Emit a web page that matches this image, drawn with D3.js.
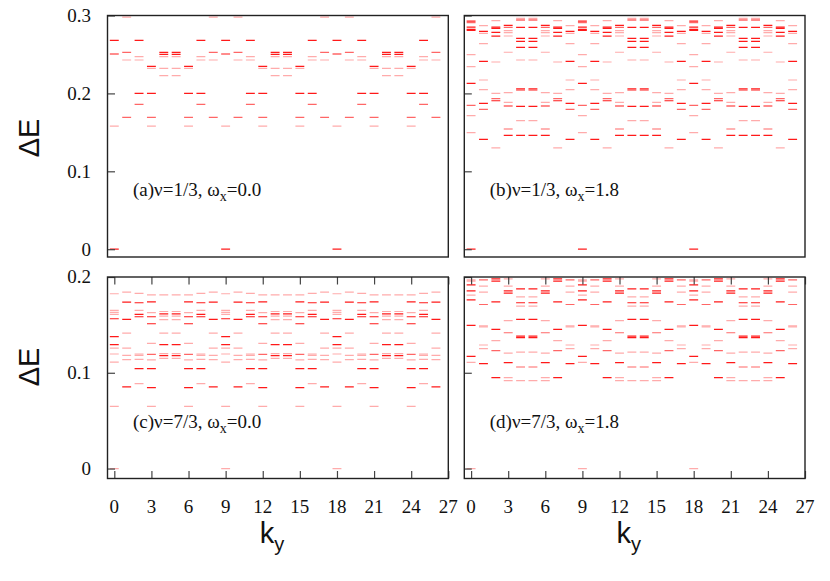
<!DOCTYPE html>
<html><head><meta charset="utf-8">
<script src="https://cdn.jsdelivr.net/npm/d3@7"></script>
<style>body{margin:0;background:#fff}</style>
</head><body>
<svg id="c" width="830" height="581"></svg>
<script>
// ---- data ----
// levels per ky = 0..8 as [ΔE, weight]; the spectrum repeats with period 9 in ky (0..26)
const kTicks = [0, 3, 6, 9, 12, 15, 18, 21, 24, 27];
const yTicksTop = [0, 0.1, 0.2, 0.3];
const yTicksBottom = [0, 0.1, 0.2];
const nK = 27;
const period = 9;

const levelsA = [
  [[0,3],[0.268,3],[0.2506,3],[0.158,1]],
  [[0.298,1],[0.2527,2],[0.2429,1],[0.1693,2]],
  [[0.268,3],[0.2472,1],[0.2429,1],[0.200,3],[0.186,2]],
  [[0.2348,3],[0.2322,1],[0.200,3],[0.1693,2],[0.158,1]],
  [[0.2527,3],[0.2502,3],[0.2472,1],[0.2322,1],[0.2227,1]],
  [[0.2527,3],[0.2502,3],[0.2472,1],[0.2322,1],[0.2227,1]],
  [[0.2348,3],[0.2322,1],[0.200,3],[0.1693,2],[0.158,1]],
  [[0.268,3],[0.2472,1],[0.2429,1],[0.200,3],[0.186,2]],
  [[0.298,1],[0.2527,2],[0.2429,1],[0.1693,2]]
];
const levelsB = [
  [[0,3],[0.2929,3],[0.2908,2],[0.2852,3],[0.2823,3],[0.2810,3],[0.2497,1],[0.2343,1],[0.2129,3],[0.1847,2],[0.1714,1],[0.1496,1]],
  [[0.2869,1],[0.2797,3],[0.2771,1],[0.2638,1],[0.2412,3],[0.2172,1],[0.2048,1],[0.1873,3],[0.1796,2],[0.1411,3]],
  [[0.2933,1],[0.2852,3],[0.2835,3],[0.2784,3],[0.2735,3],[0.2403,1],[0.2001,1],[0.1932,2],[0.1906,3],[0.1300,1]],
  [[0.2874,3],[0.2848,2],[0.2805,1],[0.2779,1],[0.2737,1],[0.2528,1],[0.2009,1],[0.1886,1],[0.1838,3],[0.1543,2],[0.1462,3]],
  [[0.2964,1],[0.2942,3],[0.2848,3],[0.2707,3],[0.2669,3],[0.2592,3],[0.2429,1],[0.2060,3],[0.2044,3],[0.1834,3],[0.1650,1],[0.1462,3]],
  [[0.2964,1],[0.2942,3],[0.2848,3],[0.2707,3],[0.2669,3],[0.2592,3],[0.2429,1],[0.2060,3],[0.2044,3],[0.1834,3],[0.1650,1],[0.1462,3]],
  [[0.2874,3],[0.2848,2],[0.2805,1],[0.2779,1],[0.2737,1],[0.2528,1],[0.2009,1],[0.1886,1],[0.1838,3],[0.1543,2],[0.1462,3]],
  [[0.2933,1],[0.2852,3],[0.2835,3],[0.2784,3],[0.2735,3],[0.2403,1],[0.2001,1],[0.1932,2],[0.1906,3],[0.1300,1]],
  [[0.2869,1],[0.2797,3],[0.2771,1],[0.2638,1],[0.2412,3],[0.2172,1],[0.2048,1],[0.1873,3],[0.1796,2],[0.1411,3]]
];
const levelsC = [
  [[0,1],[0.1825,1],[0.1651,1],[0.1630,1],[0.1609,1],[0.1564,3],[0.1377,3],[0.1293,3],[0.1258,1],[0.1196,1],[0.1112,1],[0.0650,1]],
  [[0.1842,1],[0.1738,3],[0.1557,3],[0.1415,1],[0.1258,1],[0.1182,1],[0.1137,1],[0.0852,3]],
  [[0.1828,1],[0.1731,3],[0.1651,1],[0.1609,3],[0.1585,3],[0.1196,1],[0.1182,1],[0.1140,1],[0.1043,3],[0.0887,1]],
  [[0.1814,1],[0.1741,3],[0.1627,1],[0.1585,3],[0.1512,3],[0.1307,1],[0.1192,2],[0.1134,1],[0.1043,3],[0.0845,3],[0.0650,1]],
  [[0.1814,1],[0.1640,1],[0.1616,3],[0.1592,1],[0.1554,1],[0.1415,1],[0.1293,3],[0.1200,1],[0.1179,3],[0.1151,1]],
  [[0.1814,1],[0.1640,1],[0.1616,3],[0.1592,1],[0.1554,1],[0.1415,1],[0.1293,3],[0.1200,1],[0.1179,3],[0.1151,1]],
  [[0.1814,1],[0.1741,3],[0.1627,1],[0.1585,3],[0.1512,3],[0.1307,1],[0.1192,2],[0.1134,1],[0.1043,3],[0.0845,3],[0.0650,1]],
  [[0.1828,1],[0.1731,3],[0.1651,1],[0.1609,3],[0.1585,3],[0.1196,1],[0.1182,1],[0.1140,1],[0.1043,3],[0.0887,1]],
  [[0.1842,1],[0.1738,3],[0.1557,3],[0.1415,1],[0.1258,1],[0.1182,1],[0.1137,1],[0.0852,3]]
];
const levelsD = [
  [[0,1],[0.1971,1],[0.1957,1],[0.1918,3],[0.1856,3],[0.1811,1],[0.1762,3],[0.1495,3],[0.1172,3],[0.1109,1]],
  [[0.1971,2],[0.1904,1],[0.1842,1],[0.1713,2],[0.1490,1],[0.1478,1],[0.1290,1],[0.1252,1],[0.1095,3]],
  [[0.1981,3],[0.1957,3],[0.1741,3],[0.1453,3],[0.1335,1],[0.1231,2],[0.0949,3]],
  [[0.1981,1],[0.1904,1],[0.1856,3],[0.1832,3],[0.1544,1],[0.1418,2],[0.1206,1],[0.1106,3],[0.0949,1],[0.0918,1]],
  [[0.1877,3],[0.1793,1],[0.1731,3],[0.1696,1],[0.1557,3],[0.1383,3],[0.1366,3],[0.1216,1],[0.1060,2],[0.0918,1]],
  [[0.1877,3],[0.1793,1],[0.1731,3],[0.1696,1],[0.1557,3],[0.1383,3],[0.1366,3],[0.1216,1],[0.1060,2],[0.0918,1]],
  [[0.1981,1],[0.1904,1],[0.1856,3],[0.1832,3],[0.1544,1],[0.1418,2],[0.1206,1],[0.1106,3],[0.0949,1],[0.0918,1]],
  [[0.1981,3],[0.1957,3],[0.1741,3],[0.1453,3],[0.1335,1],[0.1231,2],[0.0949,3]],
  [[0.1971,2],[0.1904,1],[0.1842,1],[0.1713,2],[0.1490,1],[0.1478,1],[0.1290,1],[0.1252,1],[0.1095,3]]
];
const panelTags = ["(a)", "(b)", "(c)", "(d)"];
const panelNu = ["1/3", "1/3", "7/3", "7/3"];
const panelOmega = ["0.0", "1.8", "0.0", "1.8"];

// ---- layout ----
const svg = d3.select("#c");
const serif = "'Liberation Serif','Times New Roman',serif";
const sans = "'Liberation Sans',Arial,sans-serif";
const colX = [[107.5, 448.3], [464.3, 805]];
const rowY = [[15.5, 257], [277, 478.5]];
const rowDomain = [[-0.01, 0.3], [-0.0104, 0.2]];
const rowTicks = [yTicksTop, yTicksBottom];
const panels = [
  {lev: levelsA, c: 0, r: 0},
  {lev: levelsB, c: 1, r: 0},
  {lev: levelsC, c: 0, r: 1},
  {lev: levelsD, c: 1, r: 1}
];
const op = d3.scaleOrdinal().domain([1, 2, 3]).range([0.33, 0.6, 0.9]);
const halfW = 0.36;

panels.forEach((p, i) => {
  const x = d3.scaleLinear().domain([-0.55, 27]).range(colX[p.c]);
  const y = d3.scaleLinear().domain(rowDomain[p.r]).range([rowY[p.r][1], rowY[p.r][0]]);
  const g = svg.append("g");
  const cid = "clip" + i;
  svg.append("clipPath").attr("id", cid).append("rect")
    .attr("x", colX[p.c][0]).attr("y", rowY[p.r][0])
    .attr("width", colX[p.c][1] - colX[p.c][0]).attr("height", rowY[p.r][1] - rowY[p.r][0]);
  const segs = [];
  for (let k = 0; k < nK; k++) {
    p.lev[k % period].forEach(([e, w]) => segs.push({k, e, w}));
  }
  g.append("g").attr("clip-path", `url(#${cid})`)
    .selectAll("line").data(segs).join("line")
    .attr("x1", d => x(d.k - halfW)).attr("x2", d => x(d.k + halfW))
    .attr("y1", d => y(d.e)).attr("y2", d => y(d.e))
    .attr("stroke", "#ff0000").attr("stroke-width", 1.2)
    .attr("stroke-opacity", d => op(d.w));

  // y ticks (inward, left edge)
  const ya = d3.axisRight(y).tickValues(rowTicks[p.r]).tickSize(7.5).tickFormat("");
  const yg = g.append("g").attr("transform", `translate(${colX[p.c][0]},0)`).call(ya);
  yg.select(".domain").remove();
  yg.selectAll("line").attr("stroke", "#444").attr("stroke-width", 1.2);
  if (p.c === 0) {
    g.append("g").selectAll("text").data(rowTicks[p.r]).join("text")
      .attr("x", 91).attr("y", d => y(d) + 6.4)
      .attr("text-anchor", "end").attr("font-family", serif).attr("font-size", 19)
      .attr("fill", "#111").text(d => d3.format("")(d));
  }
  // x ticks on lower panels (inward, top and bottom)
  if (p.r === 1) {
    const xb = d3.axisTop(x).tickValues(kTicks).tickSize(7.5).tickFormat("");
    const xbg = g.append("g").attr("transform", `translate(0,${rowY[1][1]})`).call(xb);
    xbg.select(".domain").remove();
    xbg.selectAll("line").attr("stroke", "#444").attr("stroke-width", 1.2);
    const xt = d3.axisBottom(x).tickValues(kTicks).tickSize(7.5).tickFormat("");
    const xtg = g.append("g").attr("transform", `translate(0,${rowY[1][0]})`).call(xt);
    xtg.select(".domain").remove();
    xtg.selectAll("line").attr("stroke", "#444").attr("stroke-width", 1.2);
    g.append("g").selectAll("text").data(kTicks).join("text")
      .attr("x", d => x(d)).attr("y", 513)
      .attr("text-anchor", "middle").attr("font-family", serif).attr("font-size", 19)
      .attr("fill", "#111").text(d => d);
    // k_y title
    const t = g.append("text").attr("x", (colX[p.c][0] + colX[p.c][1]) / 2 - 6).attr("y", 543)
      .attr("text-anchor", "middle").attr("font-family", sans).attr("font-size", 29).attr("fill", "#111");
    t.append("tspan").text("k");
    t.append("tspan").attr("dy", 8).attr("font-size", 20).text("y");
  }
  // frame
  g.append("rect")
    .attr("x", colX[p.c][0]).attr("y", rowY[p.r][0])
    .attr("width", colX[p.c][1] - colX[p.c][0]).attr("height", rowY[p.r][1] - rowY[p.r][0])
    .attr("fill", "none").attr("stroke", "#222").attr("stroke-width", 1.4);
  // panel label
  const lx = colX[p.c][0] + 25.5;
  const ly = p.r === 0 ? 195.5 : 428.3;
  const lt = g.append("text").attr("x", lx).attr("y", ly)
    .attr("font-family", serif).attr("font-size", 19).attr("fill", "#111");
  lt.append("tspan").text(`${panelTags[i]}ν=${panelNu[i]}, ω`);
  lt.append("tspan").attr("dy", 5).attr("font-size", 14).text("x");
  lt.append("tspan").attr("dy", -5).text(`=${panelOmega[i]}`);
});

// ΔE titles
[138, 367].forEach(cy => {
  svg.append("text").attr("transform", `translate(39,${cy}) rotate(-90)`)
    .attr("text-anchor", "middle").attr("font-family", sans).attr("font-size", 29)
    .attr("fill", "#111").text("ΔE");
});
</script>
</body></html>
